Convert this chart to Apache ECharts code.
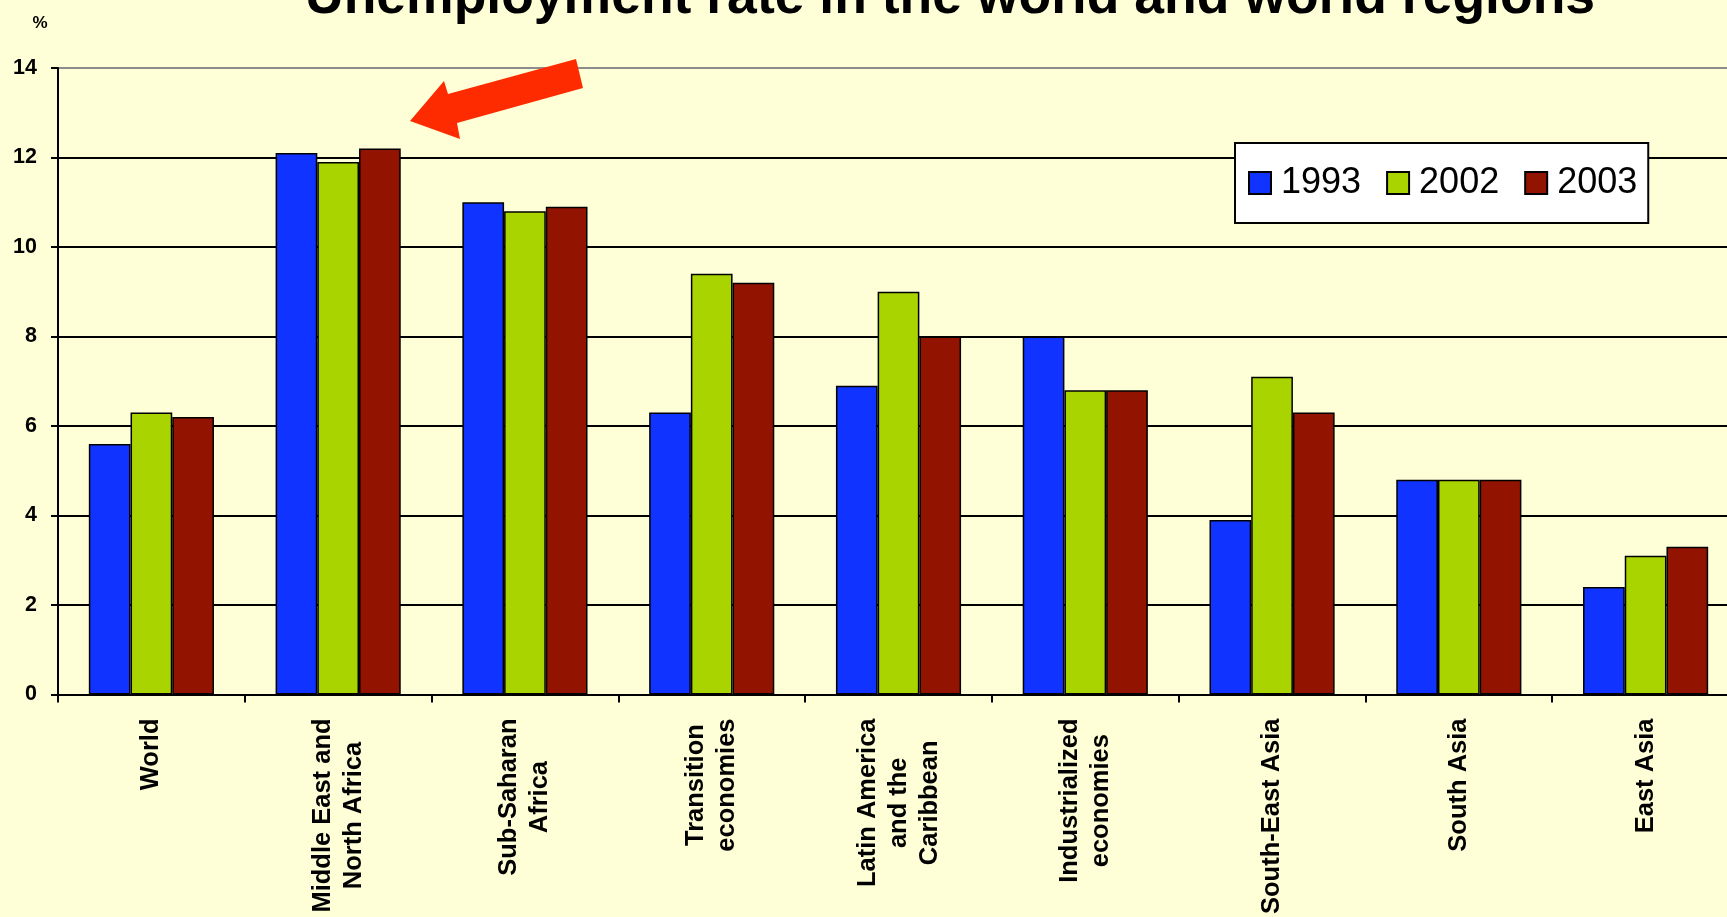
<!DOCTYPE html>
<html>
<head>
<meta charset="utf-8">
<title>Unemployment rate in the world and world regions</title>
<script src="https://cdn.jsdelivr.net/npm/echarts@6/dist/echarts.min.js"></script>
<style>
  html, body { margin: 0; padding: 0; background: #FFFFD7; overflow: hidden; }
  #chart { width: 1745px; height: 917px; }
</style>
</head>
<body>
<div id="chart"></div>
<script>
// Regions shown along the category axis
const regions = [
  'World',
  'Middle East and\nNorth Africa',
  'Sub-Saharan\nAfrica',
  'Transition\neconomies',
  'Latin America\nand the\nCaribbean',
  'Industrialized\neconomies',
  'South-East Asia',
  'South Asia',
  'East Asia'
];

// Years (one bar series per year)
const years = ['1993', '2002', '2003'];

// Unemployment rate, %
const rate1993 = [5.6, 12.1, 11.0, 6.3, 6.9, 8.0, 3.9, 4.8, 2.4];
const rate2002 = [6.3, 11.9, 10.8, 9.4, 9.0, 6.8, 7.1, 4.8, 3.1];
const rate2003 = [6.2, 12.2, 10.9, 9.2, 8.0, 6.8, 6.3, 4.8, 3.3];

// Value axis range
const yMin = 0;
const yMax = 14;
const yStep = 2;

const FONT = "'Liberation Sans', Arial, Helvetica, sans-serif";
const colors = ['#1133FF', '#AAD400', '#921400'];
const seriesValues = [rate1993, rate2002, rate2003];

const chart = echarts.init(document.getElementById('chart'), null, { renderer: 'canvas' });

const option = {
  animation: false,
  backgroundColor: '#FFFFD7',
  textStyle: { fontFamily: FONT },
  title: {
    text: 'Unemployment rate in the world and world regions',
    left: 300,
    top: -34,
    textStyle: { fontFamily: FONT, fontSize: 53.5, fontWeight: 'bold', color: '#000' }
  },
  legend: {
    left: 1235,
    top: 143,
    orient: 'horizontal',
    backgroundColor: '#FFFFFF',
    borderColor: '#000',
    borderWidth: 2,
    padding: [22, 11, 22, 13],
    itemWidth: 22,
    itemHeight: 22,
    itemGap: 25,
    icon: 'rect',
    textStyle: { fontFamily: FONT, fontSize: 36, color: '#000', lineHeight: 36, padding: [0, 0, 0, 5] },
    data: years
  },
  grid: {
    left: 58,
    top: 68,
    bottom: 221,
    width: 1681,
    containLabel: false
  },
  xAxis: {
    type: 'category',
    data: regions,
    boundaryGap: true,
    axisLine: { show: true, lineStyle: { color: '#000', width: 2 } },
    axisTick: { show: true, alignWithLabel: false, length: 8, lineStyle: { color: '#000', width: 2 } },
    axisLabel: {
      interval: 0,
      rotate: 90,
      margin: 24,
      color: '#000',
      formatter: function (v) {
        return v.split('\n').map(function (l) { return '{c|' + l + '}'; }).join('\n');
      },
      rich: {
        c: { align: 'center', fontFamily: FONT, fontSize: 25.5, fontWeight: 'bold', lineHeight: 31, color: '#000' }
      }
    },
    splitLine: { show: false }
  },
  yAxis: {
    type: 'value',
    min: yMin,
    max: yMax,
    interval: yStep,
    name: '%',
    nameLocation: 'end',
    nameGap: 36,
    nameTextStyle: { fontFamily: FONT, fontSize: 17, fontWeight: 'bold', color: '#000', padding: [0, 36, 0, 0] },
    axisLine: { show: true, lineStyle: { color: '#000', width: 2 } },
    axisTick: { show: true, inside: false, length: 7, lineStyle: { color: '#000', width: 2 } },
    axisLabel: { margin: 21, fontFamily: FONT, fontSize: 21.5, fontWeight: 'bold', color: '#000' },
    splitLine: {
      show: true,
      lineStyle: {
        color: ['#000', '#000', '#000', '#000', '#000', '#000', '#000', '#8C8C8C'],
        width: 2
      }
    }
  },
  series: years.map(function (y, i) {
    return {
      name: y,
      type: 'bar',
      data: seriesValues[i],
      barGap: '0%',
      barCategoryGap: '33%',
      itemStyle: { color: colors[i], borderColor: '#000', borderWidth: 1.5 },
      emphasis: { disabled: true }
    };
  }),
  graphic: [
    {
      // pointer arrow next to the highest group
      type: 'polygon',
      z: 100,
      shape: {
        points: [[410, 121], [444, 81], [448, 94], [576, 59], [583, 88], [457, 123], [460, 139]]
      },
      style: { fill: '#FF2B00' }
    }
  ]
};

chart.setOption(option);
</script>
</body>
</html>
